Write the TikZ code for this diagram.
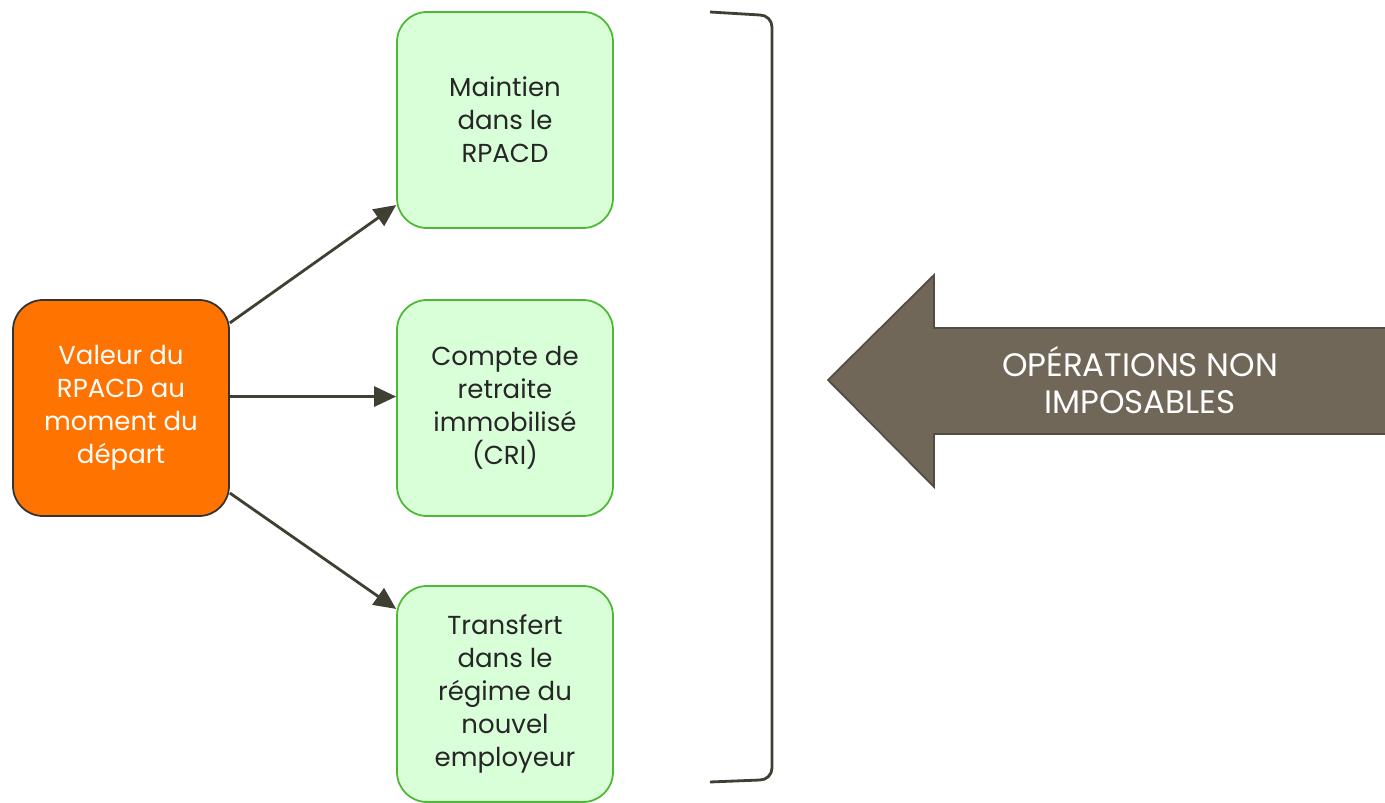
\documentclass[tikz,border=0pt]{standalone}
\usepackage{fontspec}
\setmainfont{Poppins}
\usetikzlibrary{arrows.meta, positioning, calc}

\definecolor{depart}{HTML}{FF7300}
\definecolor{vertclair}{HTML}{D9FFD9}
\definecolor{vertbord}{HTML}{4DB833}
\definecolor{olive}{HTML}{3F3F32}
\definecolor{taupe}{HTML}{716758}
\definecolor{taupebord}{HTML}{544C43}

\begin{document}
\begin{tikzpicture}[
    box/.style={draw=vertbord, line width=1pt, fill=vertclair, rounded corners=0.6cm,
                minimum width=4.32cm, minimum height=4.32cm, align=center,
                font=\fontsize{14.8}{18.7}\selectfont, text=black!85},
    source/.style={box, draw=black!80, fill=depart, text=white},
    arrow/.style={-{Triangle[length=0.44cm, width=0.4cm]}, line width=1.6pt, draw=olive, fill=olive}
  ]
  \useasboundingbox (0,0) rectangle (27.7,16.04);

  \node[source] (valeur) at (2.42, 7.88)
    {Valeur du\\RPACD au\\moment du\\départ};
  \node[box] (maintien) at (10.1, 13.64)
    {Maintien\\dans le\\RPACD};
  \node[box] (cri) at (10.1, 7.88)
    {Compte de\\retraite\\immobilisé\\(CRI)};
  \node[box] (transfert) at (10.1, 2.16)
    {Transfert\\dans le\\régime du\\nouvel\\employeur};

  \draw[arrow] (valeur.38) -- (maintien.218);
  \draw[arrow] (valeur.6) -- (valeur.6 -| cri.west);
  \draw[arrow] (valeur.-38) -- (transfert.142);

  % accolade droite
  \draw[olive, line width=1.6pt]
    (14.2, 15.8) -- (15.2, 15.74) to[out=0, in=90] (15.44, 15.5)
    -- (15.44, 0.68) to[out=-90, in=0] (15.2, 0.44) -- (14.2, 0.4);

  % grande fleche
  \draw[taupebord, fill=taupe, line width=1pt]
    (16.56, 8.44) -- (18.68, 10.54) -- (18.68, 9.48) -- (27.75, 9.48)
    -- (27.75, 7.36) -- (18.68, 7.36) -- (18.68, 6.3) -- cycle;
  \node[text=white, align=center, font=\fontsize{18.5}{21.5}\selectfont] (operations) at (22.8, 8.44)
    {OPÉRATIONS NON\\IMPOSABLES};
\end{tikzpicture}
\end{document}
